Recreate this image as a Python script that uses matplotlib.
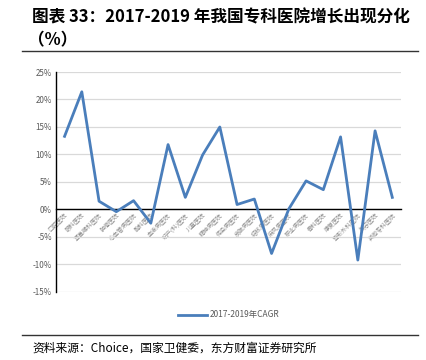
import matplotlib
matplotlib.use("Agg")
import matplotlib.pyplot as plt
import matplotlib.ticker as mtick

plt.rcParams['font.family'] = ['Noto Sans CJK SC', 'DejaVu Sans']
plt.rcParams['axes.unicode_minus'] = False

# data
categories = ['口腔医院', '眼科医院', '耳鼻喉科医院', '肿瘤医院', '心血管病医院',
              '胸科医院', '血液病医院', '妇产(科)医院', '儿童医院', '精神病医院',
              '传染病医院', '皮肤病医院', '结核病医院', '麻风病医院', '职业病医院',
              '骨科医院', '康复医院', '整形外科医院', '美容医院', '其他专科医院']
cagr = [13.3, 21.4, 1.5, -0.4, 1.6, -2.5, 11.8, 2.2, 9.9, 15.0,
        0.9, 1.9, -8.0, 0.1, 5.2, 3.6, 13.2, -9.2, 14.3, 2.2]
yticks = [-15, -10, -5, 0, 5, 10, 15, 20, 25]
series_name = '2017-2019年CAGR'

fig = plt.figure(figsize=(4.27, 3.6), dpi=100)
ax = fig.add_axes([0.131, 0.189, 0.808, 0.611])

x = list(range(len(categories)))
ax.plot(x, cagr, color='#4a7ebb', lw=2.0, label=series_name, zorder=3)

ax.set_xlim(-0.5, len(categories) - 0.5)
ax.set_ylim(-15, 25)
ax.set_yticks(yticks)
ax.yaxis.set_major_formatter(mtick.FuncFormatter(lambda v, p: f'{int(v)}%'))
ax.grid(axis='y', color='#d9d9d9', lw=0.9, zorder=0)
ax.set_axisbelow(True)

for s in ['top', 'right']:
    ax.spines[s].set_visible(False)
ax.spines['left'].set_color('black')
ax.spines['left'].set_linewidth(1.0)
ax.spines['bottom'].set_position(('data', 0))
ax.spines['bottom'].set_color('black')
ax.spines['bottom'].set_linewidth(1.0)

ax.set_xticks(x)
ax.set_xticklabels(categories, rotation=45, ha='right', rotation_mode='anchor',
                   fontsize=4.3, color='#8c8c8c')
ax.tick_params(axis='x', length=0, pad=2)
ax.tick_params(axis='y', length=0, pad=3, labelsize=5.8, labelcolor='#595959')

leg = fig.legend(loc='center', bbox_to_anchor=(0.535, 1 - 315 / 360), frameon=False,
                 fontsize=6, handlelength=3.5, handletextpad=0.3)
for t in leg.get_texts():
    t.set_color('#595959')

# title and source
fig.text(32 / 427, 1 - 17 / 360, '图表 33：2017-2019 年我国专科医院增长出现分化',
         fontsize=12, fontweight='bold', va='center', ha='left')
fig.text(28 / 427, 1 - 40 / 360, '（%）', fontsize=12, fontweight='bold',
         va='center', ha='left')
fig.add_artist(plt.Line2D([22 / 427, 418 / 427], [1 - 51 / 360, 1 - 51 / 360],
                          color='#333333', lw=1.0))
fig.add_artist(plt.Line2D([22 / 427, 418 / 427], [1 - 335 / 360, 1 - 335 / 360],
                          color='#333333', lw=1.0))
fig.text(32 / 427, 1 - 348 / 360, '资料来源：Choice，国家卫健委，东方财富证券研究所',
         fontsize=8.5, va='center', ha='left')

fig.savefig('out.png', dpi=100)
